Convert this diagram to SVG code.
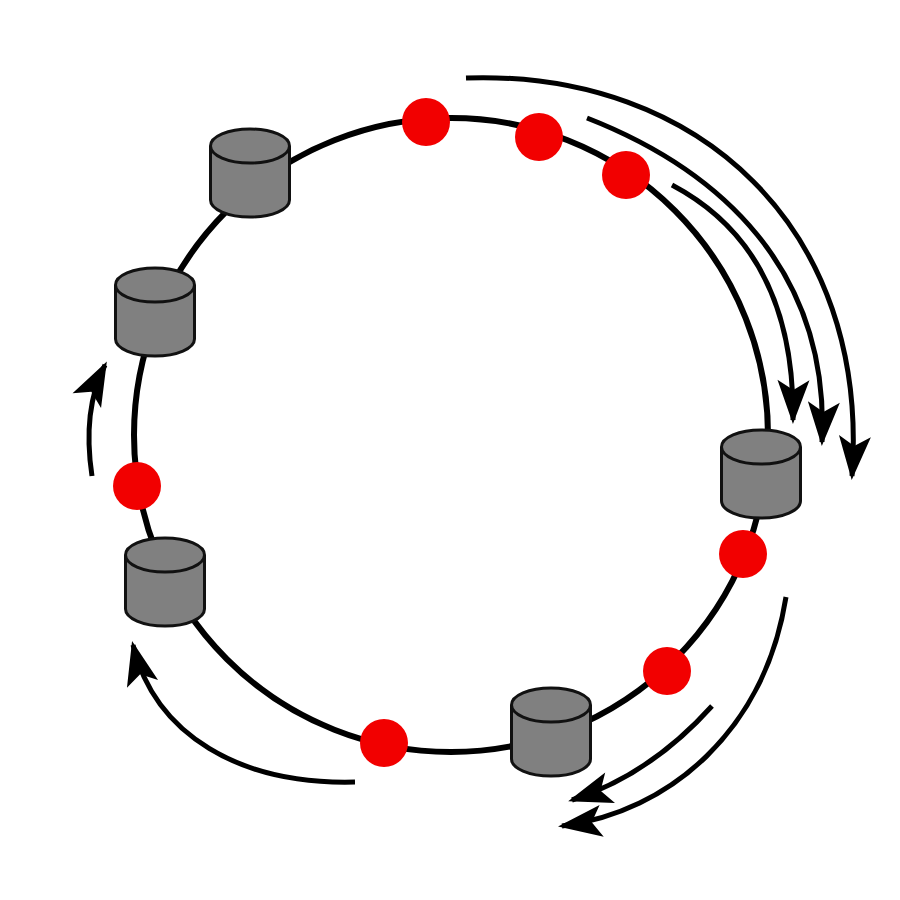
<svg xmlns="http://www.w3.org/2000/svg" width="900" height="900" viewBox="0 0 900 900">
<style>
.cyl{fill:#808080;stroke:#111;stroke-width:3}
.dot{fill:#f20000}
.arr{fill:none;stroke:#000;stroke-width:5}
</style>
<defs>
<marker id="ah" markerUnits="userSpaceOnUse" markerWidth="48" markerHeight="34" refX="40" refY="16" orient="auto" overflow="visible">
<path d="M0,0 L44,16 L0,32 L10,16 z" fill="#000"/>
</marker>
<g id="c">
<path class="cyl" d="M-39.5,0 V54 A39.5,17 0 0 0 39.5,54 V0"/>
<ellipse class="cyl" cx="0" cy="0" rx="39.5" ry="17"/>
</g>
</defs>
<circle cx="451" cy="435" r="317" fill="none" stroke="#000" stroke-width="6"/>
<g id="connectors">
<path class="arr" marker-end="url(#ah)" d="M672,185 Q795,250 793,420"/>
<path class="arr" marker-end="url(#ah)" d="M587,118 C720,170 830,270 822,442"/>
<path class="arr" marker-end="url(#ah)" d="M466,78 C700,70 870,230 852,476"/>
<path class="arr" marker-end="url(#ah)" d="M92,476 Q82,410 105,365"/>
<path class="arr" marker-end="url(#ah)" d="M355,782 C240,785 155,735 133,645"/>
<path class="arr" marker-end="url(#ah)" d="M712,706 Q650,775 572,800"/>
<path class="arr" marker-end="url(#ah)" d="M786,597 C765,730 670,812 562,826"/>
</g>
<g id="n1"><use href="#c" x="250" y="146"/></g>
<g id="n2"><use href="#c" x="155" y="285"/></g>
<g id="n3"><use href="#c" x="761" y="447"/></g>
<g id="n4"><use href="#c" x="165" y="555"/></g>
<g id="n5"><use href="#c" x="551" y="705"/></g>
<g id="d1"><circle class="dot" cx="426" cy="122" r="24"/></g>
<g id="d2"><circle class="dot" cx="539" cy="137" r="24"/></g>
<g id="d3"><circle class="dot" cx="626" cy="175" r="24"/></g>
<g id="d4"><circle class="dot" cx="137" cy="486" r="24"/></g>
<g id="d5"><circle class="dot" cx="743" cy="554" r="24"/></g>
<g id="d6"><circle class="dot" cx="667" cy="671" r="24"/></g>
<g id="d7"><circle class="dot" cx="384" cy="743" r="24"/></g>
</svg>
